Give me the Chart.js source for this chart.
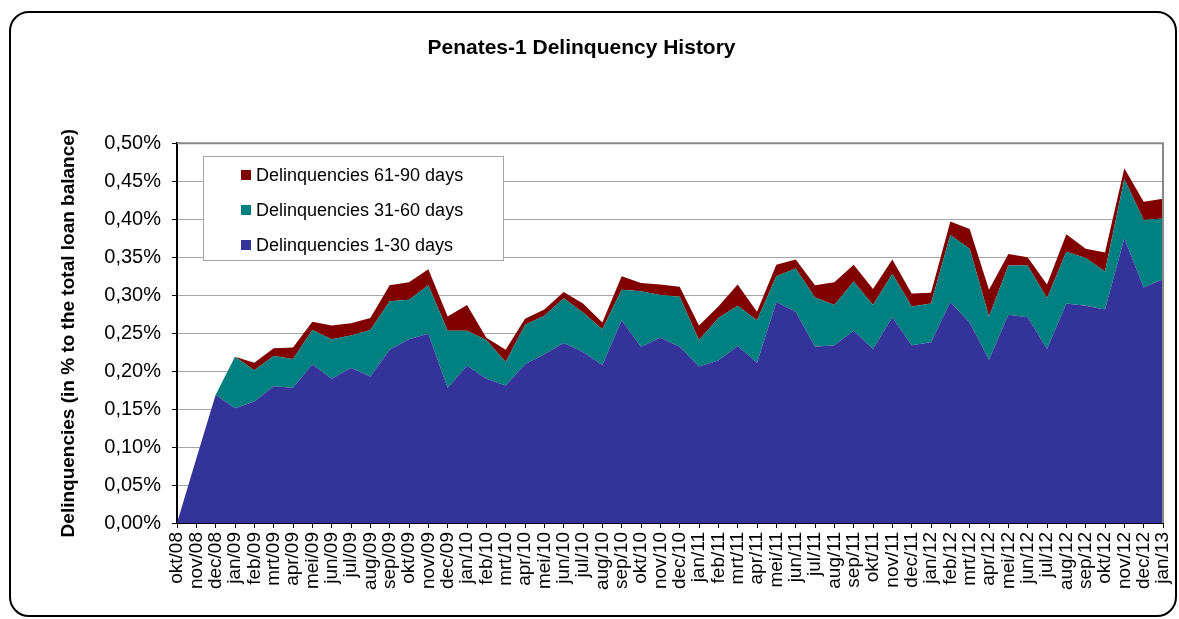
<!DOCTYPE html>
<html>
<head>
<meta charset="utf-8">
<script src="https://cdn.jsdelivr.net/npm/chart.js@4.4.1/dist/chart.umd.min.js"></script>
<style>
  html, body { margin: 0; padding: 0; background: #fff; }
  #wrap { position: relative; width: 1179px; height: 619px; overflow: hidden; }
  #frame {
    position: absolute; left: 9px; top: 11px; width: 1168px; height: 606px;
    box-sizing: border-box; border: 2px solid #000; border-radius: 20px;
  }
  #chart { position: absolute; left: 0; top: 0; }
  #legend {
    position: absolute; left: 203px; top: 156px; width: 301px; height: 105px;
    box-sizing: border-box; border: 1px solid #a6a6a6; background: #fff;
    font-family: "Liberation Sans", Arial, sans-serif; font-size: 18px; color: #000;
    padding-top: 7px;
  }
  .row { height: 35px; line-height: 22px; position: relative; padding-left: 52px; }
  .sw { position: absolute; left: 37px; top: 6px; width: 10px; height: 10px; }
</style>
</head>
<body>
<div id="wrap">
  <div id="frame"></div>
  <canvas id="chart" width="1179" height="619"></canvas>
  <div id="legend"></div>
</div>
<script>
// month labels, okt/08 .. jan/13
const months = [
  'okt/08', 'nov/08', 'dec/08',
  'jan/09', 'feb/09', 'mrt/09', 'apr/09', 'mei/09', 'jun/09', 'jul/09', 'aug/09', 'sep/09', 'okt/09', 'nov/09', 'dec/09',
  'jan/10', 'feb/10', 'mrt/10', 'apr/10', 'mei/10', 'jun/10', 'jul/10', 'aug/10', 'sep/10', 'okt/10', 'nov/10', 'dec/10',
  'jan/11', 'feb/11', 'mrt/11', 'apr/11', 'mei/11', 'jun/11', 'jul/11', 'aug/11', 'sep/11', 'okt/11', 'nov/11', 'dec/11',
  'jan/12', 'feb/12', 'mrt/12', 'apr/12', 'mei/12', 'jun/12', 'jul/12', 'aug/12', 'sep/12', 'okt/12', 'nov/12', 'dec/12',
  'jan/13'
];

// values in % of total loan balance
const days1to30 = [
  0, 0.085, 0.169, 0.151, 0.160, 0.180, 0.178, 0.209, 0.190, 0.204, 0.193, 0.228, 0.242,
  0.249, 0.178, 0.207, 0.190, 0.181, 0.209, 0.222, 0.237, 0.225, 0.208, 0.267, 0.232,
  0.244, 0.232, 0.206, 0.214, 0.233, 0.211, 0.291, 0.278, 0.232, 0.234, 0.253, 0.229,
  0.271, 0.234, 0.238, 0.291, 0.264, 0.215, 0.274, 0.271, 0.229, 0.289, 0.286, 0.281,
  0.375, 0.310, 0.321
];
const days31to60 = [
  0, 0, 0, 0.068, 0.041, 0.040, 0.038, 0.045, 0.052, 0.043, 0.061, 0.064, 0.052,
  0.064, 0.075, 0.046, 0.051, 0.031, 0.052, 0.051, 0.059, 0.052, 0.047, 0.040, 0.073,
  0.056, 0.066, 0.035, 0.056, 0.053, 0.056, 0.034, 0.057, 0.065, 0.053, 0.065, 0.058,
  0.057, 0.051, 0.051, 0.088, 0.097, 0.057, 0.065, 0.068, 0.067, 0.068, 0.063, 0.050,
  0.078, 0.089, 0.080
];
const days61to90 = [
  0, 0, 0, 0, 0.010, 0.010, 0.015, 0.011, 0.018, 0.016, 0.016, 0.021, 0.023,
  0.021, 0.019, 0.034, 0.003, 0.016, 0.008, 0.008, 0.008, 0.012, 0.009, 0.018, 0.011,
  0.014, 0.013, 0.019, 0.015, 0.028, 0.011, 0.015, 0.012, 0.016, 0.030, 0.022, 0.021,
  0.019, 0.017, 0.014, 0.018, 0.026, 0.035, 0.015, 0.011, 0.018, 0.023, 0.012, 0.025,
  0.014, 0.024, 0.026
];

const seriesNames = ['Delinquencies 1-30 days', 'Delinquencies 31-60 days', 'Delinquencies 61-90 days'];
const seriesColors = ['#333399', '#008080', '#800000'];

const font = 'Liberation Sans, Arial, sans-serif';

// gray top and right edge of the plot area
const plotFrame = {
  id: 'plotFrame',
  afterDatasetsDraw(chart) {
    const a = chart.chartArea, ctx = chart.ctx;
    ctx.save();
    ctx.strokeStyle = '#888888';
    ctx.lineWidth = 2;
    ctx.beginPath();
    ctx.moveTo(a.left, a.top);
    ctx.lineTo(a.right, a.top);
    ctx.lineTo(a.right, a.bottom);
    ctx.stroke();
    ctx.restore();
  }
};

const ctx = document.getElementById('chart').getContext('2d');
new Chart(ctx, {
  type: 'line',
  data: {
    labels: months,
    datasets: [
      { label: seriesNames[0], data: days1to30, backgroundColor: seriesColors[0], fill: 'origin' },
      { label: seriesNames[1], data: days31to60, backgroundColor: seriesColors[1], fill: '-1' },
      { label: seriesNames[2], data: days61to90, backgroundColor: seriesColors[2], fill: '-1' }
    ]
  },
  options: {
    responsive: false,
    animation: false,
    layout: { padding: { left: 0, right: 16, top: 0, bottom: 0 } },
    elements: {
      line: { borderWidth: 0, tension: 0 },
      point: { radius: 0 }
    },
    plugins: {
      legend: { display: false },
      tooltip: { enabled: false },
      title: {
        display: true,
        text: 'Penates-1 Delinquency History',
        color: '#000',
        font: { family: font, size: 21, weight: 'bold', lineHeight: 1.2 },
        padding: { top: 36, bottom: 82 }
      }
    },
    scales: {
      x: {
        offset: false,
        grid: { drawOnChartArea: false, tickLength: 5, color: '#000' },
        border: { color: '#000', width: 2 },
        ticks: {
          autoSkip: false, minRotation: 90, maxRotation: 90, padding: 4,
          color: '#000', font: { family: font, size: 19 }
        },
        afterFit(scale) {
          scale.height = 96;
          scale.paddingLeft = 0;
          scale.paddingRight = 0;
        }
      },
      y: {
        stacked: true,
        min: 0, max: 0.5,
        grid: { color: '#a6a6a6', tickColor: '#000', tickLength: 5, lineWidth: 1 },
        border: { color: '#000', width: 2 },
        ticks: {
          stepSize: 0.05, padding: 11, color: '#000',
          font: { family: font, size: 20 },
          callback: v => v.toFixed(2).replace('.', ',') + '%'
        },
        title: {
          display: true,
          text: 'Delinquencies (in % to the total loan balance)',
          color: '#000',
          font: { family: font, size: 19, weight: 'bold' },
          padding: { top: 57, bottom: 0 }
        },
        afterFit(scale) { scale.width = 177; }
      }
    }
  },
  plugins: [plotFrame]
});

// legend box, top entry first as in the original
const legend = document.getElementById('legend');
for (let i = seriesNames.length - 1; i >= 0; i--) {
  const row = document.createElement('div');
  row.className = 'row';
  row.innerHTML = '<span class="sw" style="background:' + seriesColors[i] + '"></span>' + seriesNames[i];
  legend.appendChild(row);
}
</script>
</body>
</html>
